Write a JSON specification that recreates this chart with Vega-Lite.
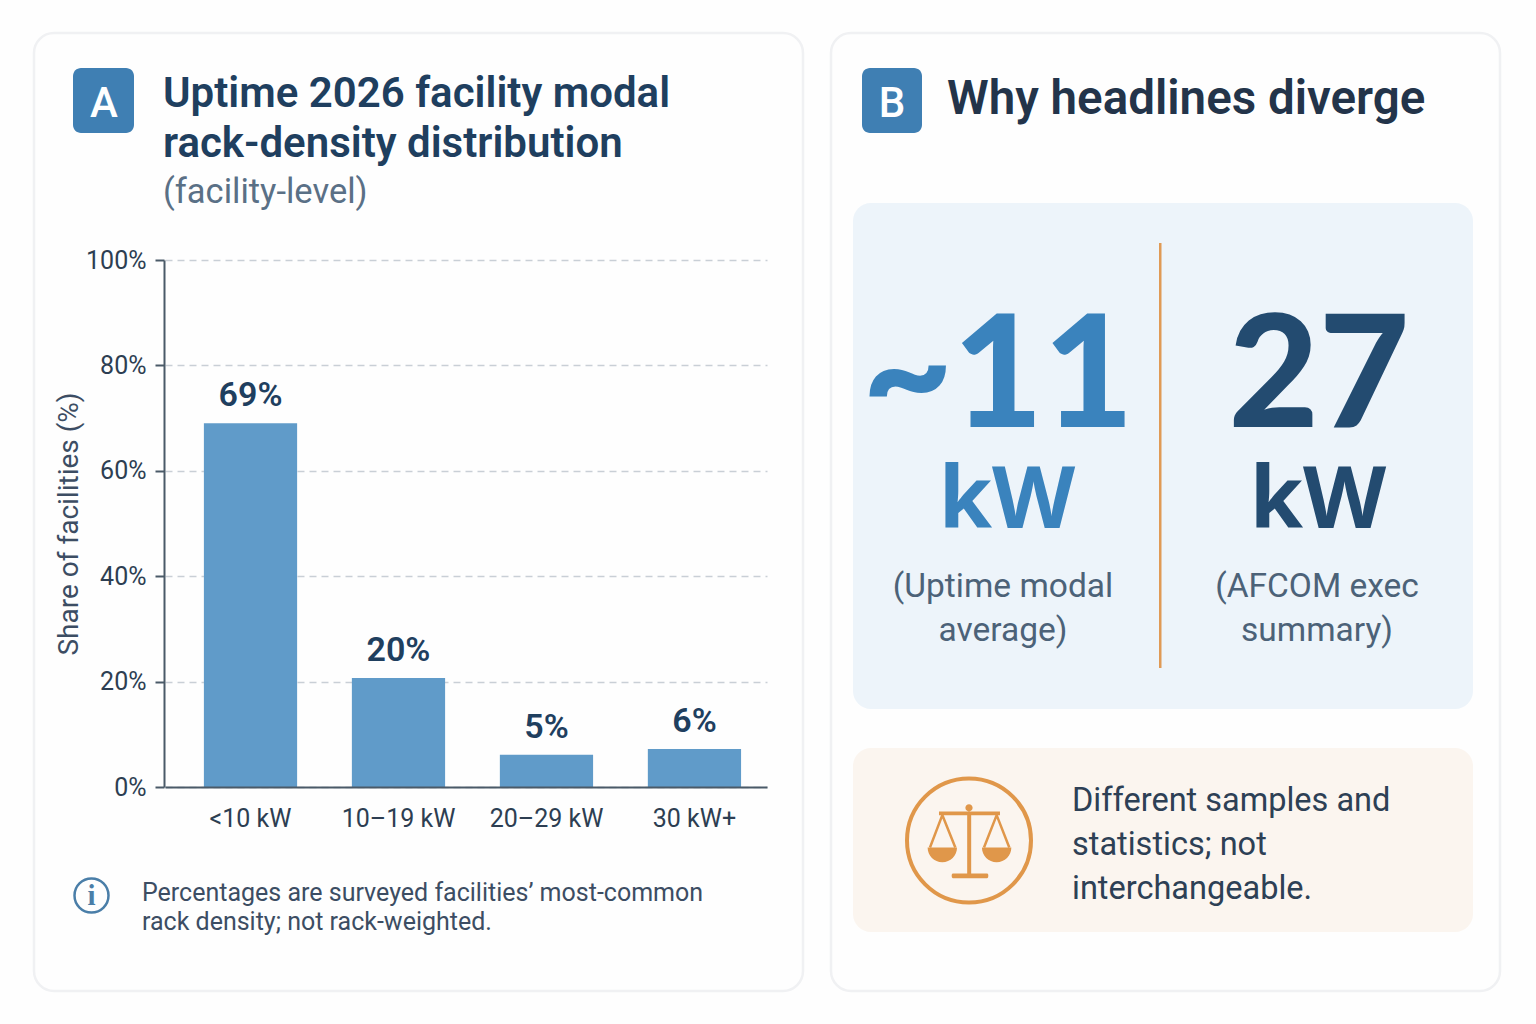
{
  "$schema": "https://vega.github.io/schema/vega-lite/v6.json",
  "width": 1536,
  "height": 1024,
  "padding": 0,
  "autosize": {"type": "none"},
  "background": "#fefefe",
  "config": {
    "view": {"stroke": null},
    "text": {"font": "Roboto", "baseline": "alphabetic", "lineBreak": "\n"}
  },
  "resolve": {"scale": {"x": "independent", "y": "independent", "color": "independent"}},
  "layer": [
    {
      "data": {"values": [{"box": "card A"}]},
      "mark": {"type": "rect", "fill": "transparent", "stroke": "#f0f1f3", "strokeWidth": 2.5, "cornerRadius": 20},
      "encoding": {
        "x": {"field": "box", "type": "nominal", "axis": null, "scale": {"type": "band", "paddingInner": 0, "paddingOuter": 0, "range": [34, 803]}},
        "y": {"field": "box", "type": "nominal", "axis": null, "scale": {"type": "band", "paddingInner": 0, "paddingOuter": 0, "range": [33, 991]}}
      }
    },
    {
      "data": {"values": [{"box": "card B"}]},
      "mark": {"type": "rect", "fill": "transparent", "stroke": "#f0f1f3", "strokeWidth": 2.5, "cornerRadius": 20},
      "encoding": {
        "x": {"field": "box", "type": "nominal", "axis": null, "scale": {"type": "band", "paddingInner": 0, "paddingOuter": 0, "range": [831, 1500]}},
        "y": {"field": "box", "type": "nominal", "axis": null, "scale": {"type": "band", "paddingInner": 0, "paddingOuter": 0, "range": [33, 991]}}
      }
    },
    {
      "data": {"values": [{"box": "badge A"}]},
      "mark": {"type": "rect", "fill": "#3f7fb3", "cornerRadius": 8},
      "encoding": {
        "x": {"field": "box", "type": "nominal", "axis": null, "scale": {"type": "band", "paddingInner": 0, "paddingOuter": 0, "range": [73, 134]}},
        "y": {"field": "box", "type": "nominal", "axis": null, "scale": {"type": "band", "paddingInner": 0, "paddingOuter": 0, "range": [68, 133]}}
      }
    },
    {
      "data": {"values": [{"box": "badge B"}]},
      "mark": {"type": "rect", "fill": "#3f7fb3", "cornerRadius": 8},
      "encoding": {
        "x": {"field": "box", "type": "nominal", "axis": null, "scale": {"type": "band", "paddingInner": 0, "paddingOuter": 0, "range": [862, 922]}},
        "y": {"field": "box", "type": "nominal", "axis": null, "scale": {"type": "band", "paddingInner": 0, "paddingOuter": 0, "range": [68, 133]}}
      }
    },
    {
      "data": {"values": [{"letter": "A", "row": "badge"}, {"letter": "B", "row": "badge"}]},
      "mark": {"type": "text", "align": "center", "fontSize": 42, "fontWeight": 500, "fill": "#ffffff"},
      "encoding": {
        "x": {"field": "letter", "type": "nominal", "axis": null, "scale": {"type": "point", "padding": 0, "domain": ["A", "B"], "range": [104, 892]}},
        "y": {"field": "row", "type": "nominal", "axis": null, "scale": {"type": "point", "padding": 0, "range": [117, 117]}},
        "text": {"field": "letter"}
      }
    },
    {
      "data": {"values": [{"title": "Uptime 2026 facility modal\nrack-density distribution"}]},
      "mark": {"type": "text", "align": "left", "fontSize": 42, "fontWeight": 600, "lineHeight": 50, "fill": "#1f3f5f"},
      "encoding": {
        "x": {"field": "title", "type": "nominal", "axis": null, "scale": {"type": "point", "padding": 0, "range": [163, 163]}},
        "y": {"field": "title", "type": "nominal", "axis": null, "scale": {"type": "point", "padding": 0, "range": [107, 107]}},
        "text": {"field": "title"}
      }
    },
    {
      "data": {"values": [{"title": "(facility-level)"}]},
      "mark": {"type": "text", "align": "left", "fontSize": 34.5, "fill": "#5a7086"},
      "encoding": {
        "x": {"field": "title", "type": "nominal", "axis": null, "scale": {"type": "point", "padding": 0, "range": [163, 163]}},
        "y": {"field": "title", "type": "nominal", "axis": null, "scale": {"type": "point", "padding": 0, "range": [203, 203]}},
        "text": {"field": "title"}
      }
    },
    {
      "data": {"values": [{"title": "Why headlines diverge"}]},
      "mark": {"type": "text", "align": "left", "fontSize": 47.5, "fontWeight": 600, "fill": "#23344a"},
      "encoding": {
        "x": {"field": "title", "type": "nominal", "axis": null, "scale": {"type": "point", "padding": 0, "range": [947, 947]}},
        "y": {"field": "title", "type": "nominal", "axis": null, "scale": {"type": "point", "padding": 0, "range": [114, 114]}},
        "text": {"field": "title"}
      }
    },
    {
      "data": {"name": "bars", "values": [
        {"band": "<10 kW", "share": 69, "label": "69%"},
        {"band": "10–19 kW", "share": 20.7, "label": "20%"},
        {"band": "20–29 kW", "share": 6.1, "label": "5%"},
        {"band": "30 kW+", "share": 7.2, "label": "6%"}
      ]},
      "mark": {"type": "bar", "fill": "#609bc9"},
      "encoding": {
        "x": {
          "field": "band", "type": "nominal", "title": null,
          "scale": {"type": "band", "domain": ["<10 kW", "10–19 kW", "20–29 kW", "30 kW+"], "range": [165, 767], "paddingInner": 0.37, "paddingOuter": 0.219, "align": 0.6},
          "axis": {"offset": -237, "zindex": 1, "labelAngle": 0, "labelFont": "Roboto", "labelFontSize": 25, "labelColor": "#2d3e52", "labelPadding": 19, "ticks": false, "domainColor": "#4a5a68", "domainWidth": 2, "grid": false}
        },
        "y": {
          "field": "share", "type": "quantitative", "title": "Share of facilities (%)",
          "scale": {"domain": [0, 100], "range": [787, 260]},
          "axis": {"offset": -164, "values": [0, 20, 40, 60, 80, 100], "labelExpr": "datum.value + '%'", "labelFont": "Roboto", "labelFontSize": 25, "labelColor": "#2d3e52", "labelPadding": 9, "tickSize": 9, "tickColor": "#4a5a68", "tickWidth": 2, "domainColor": "#4a5a68", "domainWidth": 2, "grid": true, "gridColor": "#c9cfd6", "gridDash": [7, 5], "gridWidth": 1.5, "titleFont": "Roboto", "titleFontSize": 28, "titleFontWeight": 400, "titleColor": "#3c4d63", "titlePadding": 2}
        }
      }
    },
    {
      "data": {"name": "bars"},
      "mark": {"type": "text", "align": "center", "dy": -17, "fontSize": 34, "fontWeight": 600, "fill": "#1f3f5f"},
      "encoding": {
        "x": {"field": "band", "type": "nominal", "axis": null, "scale": {"type": "band", "domain": ["<10 kW", "10–19 kW", "20–29 kW", "30 kW+"], "range": [165, 767], "paddingInner": 0.37, "paddingOuter": 0.219, "align": 0.6}},
        "y": {"field": "share", "type": "quantitative", "axis": null, "scale": {"domain": [0, 100], "range": [787, 260]}},
        "text": {"field": "label"}
      }
    },
    {
      "data": {"values": [{"icon": "info"}]},
      "mark": {"type": "point", "shape": "circle", "size": 1156, "fill": "transparent", "stroke": "#4a7ea8", "strokeWidth": 2.5, "opacity": 1},
      "encoding": {
        "x": {"field": "icon", "type": "nominal", "axis": null, "scale": {"type": "point", "padding": 0, "range": [91.5, 91.5]}},
        "y": {"field": "icon", "type": "nominal", "axis": null, "scale": {"type": "point", "padding": 0, "range": [895.5, 895.5]}}
      }
    },
    {
      "data": {"values": [{"icon": "i"}]},
      "mark": {"type": "text", "align": "center", "font": "Liberation Serif", "fontSize": 29, "fontWeight": 700, "fill": "#4a7ea8"},
      "encoding": {
        "x": {"field": "icon", "type": "nominal", "axis": null, "scale": {"type": "point", "padding": 0, "range": [91.5, 91.5]}},
        "y": {"field": "icon", "type": "nominal", "axis": null, "scale": {"type": "point", "padding": 0, "range": [905, 905]}},
        "text": {"field": "icon"}
      }
    },
    {
      "data": {"values": [{"note": "Percentages are surveyed facilities’ most-common\nrack density; not rack-weighted."}]},
      "mark": {"type": "text", "align": "left", "fontSize": 25, "lineHeight": 29, "fill": "#3c4d63"},
      "encoding": {
        "x": {"field": "note", "type": "nominal", "axis": null, "scale": {"type": "point", "padding": 0, "range": [142, 142]}},
        "y": {"field": "note", "type": "nominal", "axis": null, "scale": {"type": "point", "padding": 0, "range": [901, 901]}},
        "text": {"field": "note"}
      }
    },
    {
      "data": {"values": [{"box": "stat panel"}]},
      "mark": {"type": "rect", "fill": "#edf4fa", "cornerRadius": 18},
      "encoding": {
        "x": {"field": "box", "type": "nominal", "axis": null, "scale": {"type": "band", "paddingInner": 0, "paddingOuter": 0, "range": [853, 1473]}},
        "y": {"field": "box", "type": "nominal", "axis": null, "scale": {"type": "band", "paddingInner": 0, "paddingOuter": 0, "range": [203, 709]}}
      }
    },
    {
      "data": {"values": [{"box": "callout"}]},
      "mark": {"type": "rect", "fill": "#fbf5ef", "cornerRadius": 18},
      "encoding": {
        "x": {"field": "box", "type": "nominal", "axis": null, "scale": {"type": "band", "paddingInner": 0, "paddingOuter": 0, "range": [853, 1473]}},
        "y": {"field": "box", "type": "nominal", "axis": null, "scale": {"type": "band", "paddingInner": 0, "paddingOuter": 0, "range": [748, 932]}}
      }
    },
    {
      "data": {"values": [{"box": "divider"}]},
      "mark": {"type": "rect", "fill": "#e09a55"},
      "encoding": {
        "x": {"field": "box", "type": "nominal", "axis": null, "scale": {"type": "band", "paddingInner": 0, "paddingOuter": 0, "range": [1159, 1161.5]}},
        "y": {"field": "box", "type": "nominal", "axis": null, "scale": {"type": "band", "paddingInner": 0, "paddingOuter": 0, "range": [243, 668]}}
      }
    },
    {
      "data": {"name": "numbers", "values": [
        {"source": "Uptime", "number": "~11", "unit": "kW", "caption": "(Uptime modal\naverage)"},
        {"source": "AFCOM", "number": "27", "unit": "kW", "caption": "(AFCOM exec\nsummary)"}
      ]},
      "mark": {"type": "text", "align": "center", "font": "Lato", "fontSize": 156, "fontWeight": 900},
      "encoding": {
        "x": {"field": "source", "type": "nominal", "axis": null, "scale": {"type": "point", "padding": 0, "domain": ["Uptime", "AFCOM"], "range": [998, 1319]}},
        "y": {"field": "number", "type": "nominal", "axis": null, "scale": {"type": "point", "padding": 0, "range": [427, 427]}},
        "color": {"field": "source", "type": "nominal", "legend": null, "scale": {"domain": ["Uptime", "AFCOM"], "range": ["#3a83bd", "#234b70"]}},
        "text": {"field": "number"}
      }
    },
    {
      "data": {"name": "numbers"},
      "mark": {"type": "text", "align": "center", "font": "Noto Sans", "fontSize": 86, "fontWeight": 700},
      "encoding": {
        "x": {"field": "source", "type": "nominal", "axis": null, "scale": {"type": "point", "padding": 0, "domain": ["Uptime", "AFCOM"], "range": [1007, 1318]}},
        "y": {"field": "unit", "type": "nominal", "axis": null, "scale": {"type": "point", "padding": 0, "range": [528, 528]}},
        "color": {"field": "source", "type": "nominal", "legend": null, "scale": {"domain": ["Uptime", "AFCOM"], "range": ["#3a83bd", "#234b70"]}},
        "text": {"field": "unit"}
      }
    },
    {
      "data": {"name": "numbers"},
      "mark": {"type": "text", "align": "center", "fontSize": 33.5, "lineHeight": 44, "fill": "#4c6278"},
      "encoding": {
        "x": {"field": "source", "type": "nominal", "axis": null, "scale": {"type": "point", "padding": 0, "domain": ["Uptime", "AFCOM"], "range": [1003, 1317]}},
        "y": {"field": "unit", "type": "nominal", "axis": null, "scale": {"type": "point", "padding": 0, "range": [597, 597]}},
        "text": {"field": "caption"}
      }
    },
    {
      "data": {"values": [{"icon": "ring"}]},
      "mark": {"type": "point", "shape": "circle", "size": 15376, "fill": "transparent", "stroke": "#e0974a", "strokeWidth": 4, "opacity": 1},
      "encoding": {
        "x": {"field": "icon", "type": "nominal", "axis": null, "scale": {"type": "point", "padding": 0, "range": [969, 969]}},
        "y": {"field": "icon", "type": "nominal", "axis": null, "scale": {"type": "point", "padding": 0, "range": [840.5, 840.5]}}
      }
    },
    {
      "data": {"values": [{"icon": "scale solid"}]},
      "mark": {
        "type": "point", "size": 14641, "filled": true, "fill": "#e0974a", "stroke": null, "opacity": 1,
        "shape": "M-0.496 -0.479L0.512 -0.479L0.512 -0.419L0.036 -0.419L0.036 0.545L0.3 0.545Q0.32 0.545 0.32 0.584Q0.32 0.623 0.3 0.623L-0.267 0.623Q-0.287 0.623 -0.287 0.584Q-0.287 0.545 -0.267 0.545L-0.03 0.545L-0.03 -0.419L-0.496 -0.419ZM-0.06 -0.54A0.06 0.06 0 1 1 0.06 -0.54A0.06 0.06 0 1 1 -0.06 -0.54ZM-0.684 0.116A0.243 0.243 0 0 0 -0.198 0.116ZM0.214 0.116A0.243 0.243 0 0 0 0.7 0.116Z"
      },
      "encoding": {
        "x": {"field": "icon", "type": "nominal", "axis": null, "scale": {"type": "point", "padding": 0, "range": [969, 969]}},
        "y": {"field": "icon", "type": "nominal", "axis": null, "scale": {"type": "point", "padding": 0, "range": [840.5, 840.5]}}
      }
    },
    {
      "data": {"values": [{"icon": "scale strings"}]},
      "mark": {
        "type": "point", "size": 14641, "fill": "transparent", "stroke": "#e0974a", "strokeWidth": 2.5, "opacity": 1,
        "shape": "M-0.441 -0.42L-0.645 0.116M-0.441 -0.42L-0.226 0.116M0.457 -0.42L0.248 0.116M0.457 -0.42L0.666 0.116"
      },
      "encoding": {
        "x": {"field": "icon", "type": "nominal", "axis": null, "scale": {"type": "point", "padding": 0, "range": [969, 969]}},
        "y": {"field": "icon", "type": "nominal", "axis": null, "scale": {"type": "point", "padding": 0, "range": [840.5, 840.5]}}
      }
    },
    {
      "data": {"values": [{"note": "Different samples and\nstatistics; not\ninterchangeable."}]},
      "mark": {"type": "text", "align": "left", "fontSize": 32.5, "lineHeight": 44, "fill": "#2d4055"},
      "encoding": {
        "x": {"field": "note", "type": "nominal", "axis": null, "scale": {"type": "point", "padding": 0, "range": [1072, 1072]}},
        "y": {"field": "note", "type": "nominal", "axis": null, "scale": {"type": "point", "padding": 0, "range": [811, 811]}},
        "text": {"field": "note"}
      }
    }
  ]
}
